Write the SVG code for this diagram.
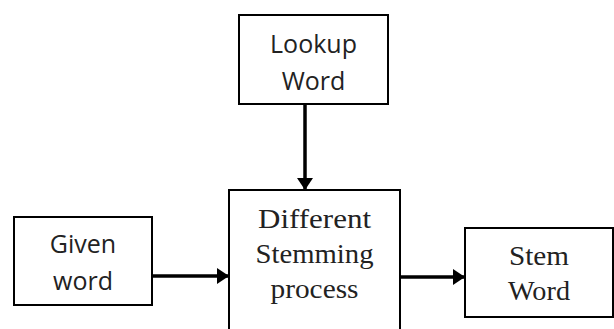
<svg xmlns="http://www.w3.org/2000/svg" width="614" height="329" viewBox="0 0 614 329">
<style>
.box{fill:#fff;stroke:#000;stroke-width:2}
.sans{font-family:"Open Sans","Liberation Sans",sans-serif;font-size:25px;fill:#222;text-anchor:middle}
.serif{font-family:"Liberation Serif","Times New Roman",serif;font-size:27px;fill:#222;text-anchor:middle}
.conn{stroke:#000;stroke-width:3.5;fill:none;marker-end:url(#ah)}
</style>
<defs>
<marker id="ah" markerUnits="userSpaceOnUse" markerWidth="13" markerHeight="16" refX="12" refY="8" orient="auto">
<path d="M0,0 L12,8 L0,16 z" fill="#000"/>
</marker>
</defs>
<rect width="614" height="329" fill="#fff"/>
<g id="connectors">
<line class="conn" x1="305" y1="104" x2="305" y2="190"/>
<line class="conn" x1="152" y1="276" x2="229" y2="276"/>
<line class="conn" x1="400" y1="277" x2="465" y2="277"/>
</g>
<g id="lookup">
<rect class="box" x="239" y="15" width="149" height="89"/>
<text class="sans" x="313.5" y="53">Lookup</text>
<text class="sans" x="313.5" y="90">Word</text>
</g>
<g id="given">
<rect class="box" x="14" y="217" width="138" height="88"/>
<text class="sans" x="83" y="253">Given</text>
<text class="sans" x="83" y="290">word</text>
</g>
<g id="process">
<rect class="box" x="229" y="190" width="171" height="150"/>
<text class="serif" x="314.5" y="228" textLength="113" lengthAdjust="spacingAndGlyphs">Different</text>
<text class="serif" x="314.5" y="263" textLength="118" lengthAdjust="spacingAndGlyphs">Stemming</text>
<text class="serif" x="314.5" y="298" textLength="88" lengthAdjust="spacingAndGlyphs">process</text>
</g>
<g id="stem">
<rect class="box" x="465" y="228" width="148" height="89"/>
<text class="serif" x="539" y="265" textLength="60" lengthAdjust="spacingAndGlyphs">Stem</text>
<text class="serif" x="539" y="300" textLength="62" lengthAdjust="spacingAndGlyphs">Word</text>
</g>
</svg>
